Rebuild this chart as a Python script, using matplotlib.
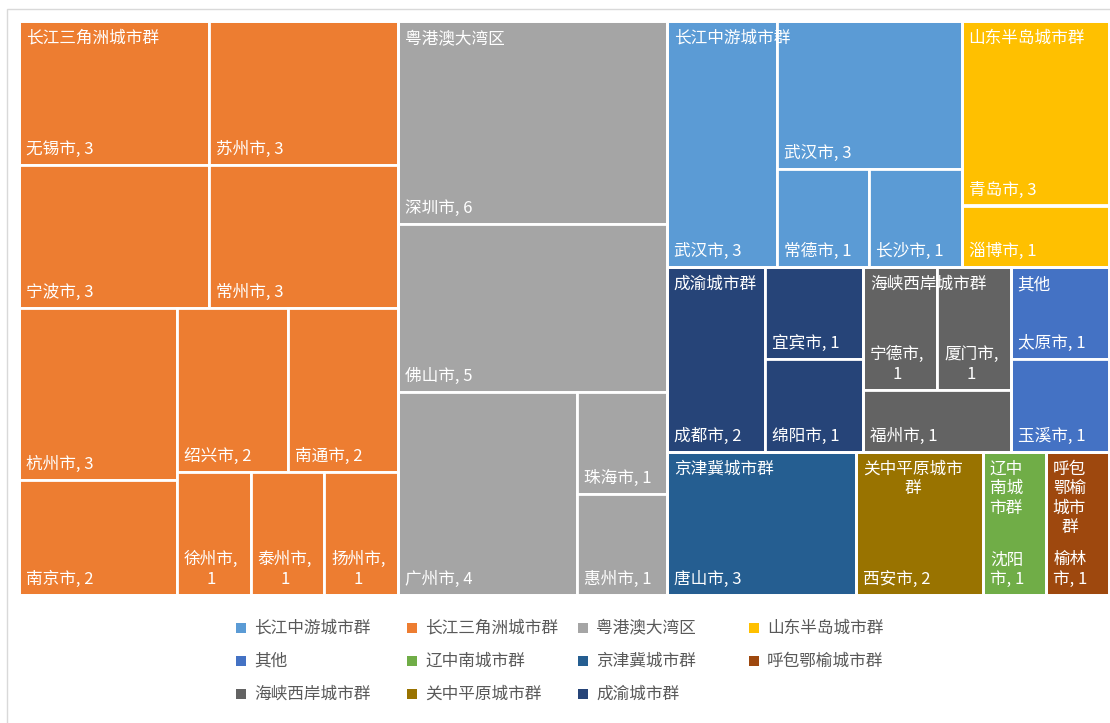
import re
import matplotlib.pyplot as plt
from matplotlib.patches import Rectangle
from matplotlib.font_manager import FontProperties

plt.rcParams['font.family'] = ['Noto Sans CJK SC', 'DejaVu Sans']

# 城市群（图例顺序）
groups = ['长江中游城市群', '长江三角洲城市群', '粤港澳大湾区', '山东半岛城市群', '其他',
          '辽中南城市群', '京津冀城市群', '呼包鄂榆城市群', '海峡西岸城市群', '关中平原城市群', '成渝城市群']
colors = ['#5B9BD5', '#ED7D31', '#A5A5A5', '#FFC000', '#4472C4',
          '#70AD47', '#255E91', '#9E480E', '#636363', '#997300', '#264478']

# 城市、所属城市群、数量
cities = ['武汉市', '武汉市', '常德市', '长沙市',
          '无锡市', '苏州市', '宁波市', '常州市', '杭州市', '南京市', '绍兴市', '南通市', '徐州市', '泰州市', '扬州市',
          '深圳市', '佛山市', '广州市', '珠海市', '惠州市',
          '青岛市', '淄博市',
          '太原市', '玉溪市',
          '沈阳市',
          '唐山市',
          '榆林市',
          '宁德市', '厦门市', '福州市',
          '西安市',
          '成都市', '宜宾市', '绵阳市']
city_group = [0, 0, 0, 0,
              1, 1, 1, 1, 1, 1, 1, 1, 1, 1, 1,
              2, 2, 2, 2, 2,
              3, 3,
              4, 4,
              5,
              6,
              7,
              8, 8, 8,
              9,
              10, 10, 10]
values = [3, 3, 1, 1,
          3, 3, 3, 3, 3, 2, 2, 2, 1, 1, 1,
          6, 5, 4, 1, 1,
          3, 1,
          1, 1,
          1,
          3,
          1,
          1, 1, 1,
          2,
          2, 1, 1]

# 矩形树图的切分结构（'h' 横向排列，'v' 纵向排列，整数为城市序号）
group_layout = {
    0: ('h', [0, ('v', [1, ('h', [2, 3])])]),
    1: ('v', [('h', [4, 5]), ('h', [6, 7]),
              ('h', [('v', [8, 9]), ('v', [('h', [10, 11]), ('h', [12, 13, 14])])])]),
    2: ('v', [15, 16, ('h', [17, ('v', [18, 19])])]),
    3: ('v', [20, 21]),
    4: ('v', [22, 23]),
    5: 24,
    6: 25,
    7: 26,
    8: ('v', [('h', [27, 28]), 29]),
    9: 30,
    10: ('h', [31, ('v', [32, 33])]),
}
top_layout = ('h', [('g', 1), ('g', 2),
                    ('v', [('h', [('g', 0), ('g', 3)]),
                           ('h', [('g', 10), ('g', 8), ('g', 4)]),
                           ('h', [('g', 6), ('g', 9), ('g', 5), ('g', 7)])])])


def size(node):
    if isinstance(node, int):
        return values[node]
    if node[0] == 'g':
        return size(group_layout[node[1]])
    return sum(size(c) for c in node[1])


leaf_rects = {}
group_rects = {}


def place(node, x, y, w, h):
    if isinstance(node, int):
        leaf_rects[node] = (x, y, w, h)
        return
    if node[0] == 'g':
        group_rects[node[1]] = (x, y, w, h)
        place(group_layout[node[1]], x, y, w, h)
        return
    total = size(node)
    for c in node[1]:
        f = size(c) / total
        if node[0] == 'h':
            place(c, x, y, w * f, h)
            x += w * f
        else:
            place(c, x, y, w, h * f)
            y += h * f


place(top_layout, 0, 0, 1, 1)

FW, FH = 1110, 723
AX_L, AX_T, AX_R, AX_B = 19, 21, 1109, 595
PW, PH = AX_R - AX_L, AX_B - AX_T

fig = plt.figure(figsize=(FW / 100, FH / 100), dpi=100)
# 图表区外框（只露出上边和左边）
fig.patches.append(Rectangle((7 / FW, -0.2), 1.2, 1.2 - 9 / FH, transform=fig.transFigure,
                             facecolor='none', edgecolor='#D9D9D9', linewidth=1))
ax = fig.add_axes([AX_L / FW, 1 - AX_B / FH, PW / FW, PH / FH])
ax.set_xlim(0, 1)
ax.set_ylim(1, 0)
ax.axis('off')

FS = 12
renderer = fig.canvas.get_renderer()
prop = FontProperties(family=['Noto Sans CJK SC', 'DejaVu Sans'], size=FS)


def text_w(s):
    w, _, _ = renderer.get_text_width_height_descent(s, prop, ismath=False)
    return w


def wrap(s, avail):
    units = re.findall(r'[\u4e00-\u9fff][^\u4e00-\u9fff\s]*|\s+|[^\u4e00-\u9fff\s]+', s)
    lines, line, space = [], '', False
    for u in units:
        if u.isspace():
            space = True
            continue
        cand = line + (' ' if space and line else '') + u
        if line == '' or text_w(cand) <= avail:
            line = cand
        else:
            lines.append(line)
            line = u
        space = False
    lines.append(line)
    return '\n'.join(lines)


PAD = 7
for i, (x, y, w, h) in leaf_rects.items():
    ax.add_patch(Rectangle((x, y), w, h, facecolor=colors[city_group[i]],
                           edgecolor='white', linewidth=2))
    label = wrap(f'{cities[i]}, {values[i]}', w * PW - 2 * PAD)
    ax.annotate(label, xy=(x, y + h), xytext=(PAD, 7), textcoords='offset pixels',
                ha='left', va='bottom', multialignment='center',
                color='white', fontsize=FS, zorder=5)

for g, (x, y, w, h) in group_rects.items():
    ax.add_patch(Rectangle((x, y), w, h, facecolor='none', edgecolor='white', linewidth=2, zorder=3))
    label = wrap(groups[g], w * PW - 2 * PAD)
    ax.annotate(label, xy=(x, y), xytext=(PAD, -9), textcoords='offset pixels',
                ha='left', va='top', multialignment='center',
                color='white', fontsize=FS, zorder=5)

# 图例（按行排列，4 列）
for k, name in enumerate(groups):
    r, c = divmod(k, 4)
    mx = 236 + c * 171
    my = 628 + r * 33
    fig.patches.append(Rectangle((mx / FW, 1 - (my + 5) / FH), 10 / FW, 10 / FH,
                                 transform=fig.transFigure, facecolor=colors[k], edgecolor='none'))
    fig.text((mx + 18) / FW, 1 - my / FH, name, ha='left', va='center',
             color='#595959', fontsize=FS)

plt.savefig('out.png', dpi=100)
